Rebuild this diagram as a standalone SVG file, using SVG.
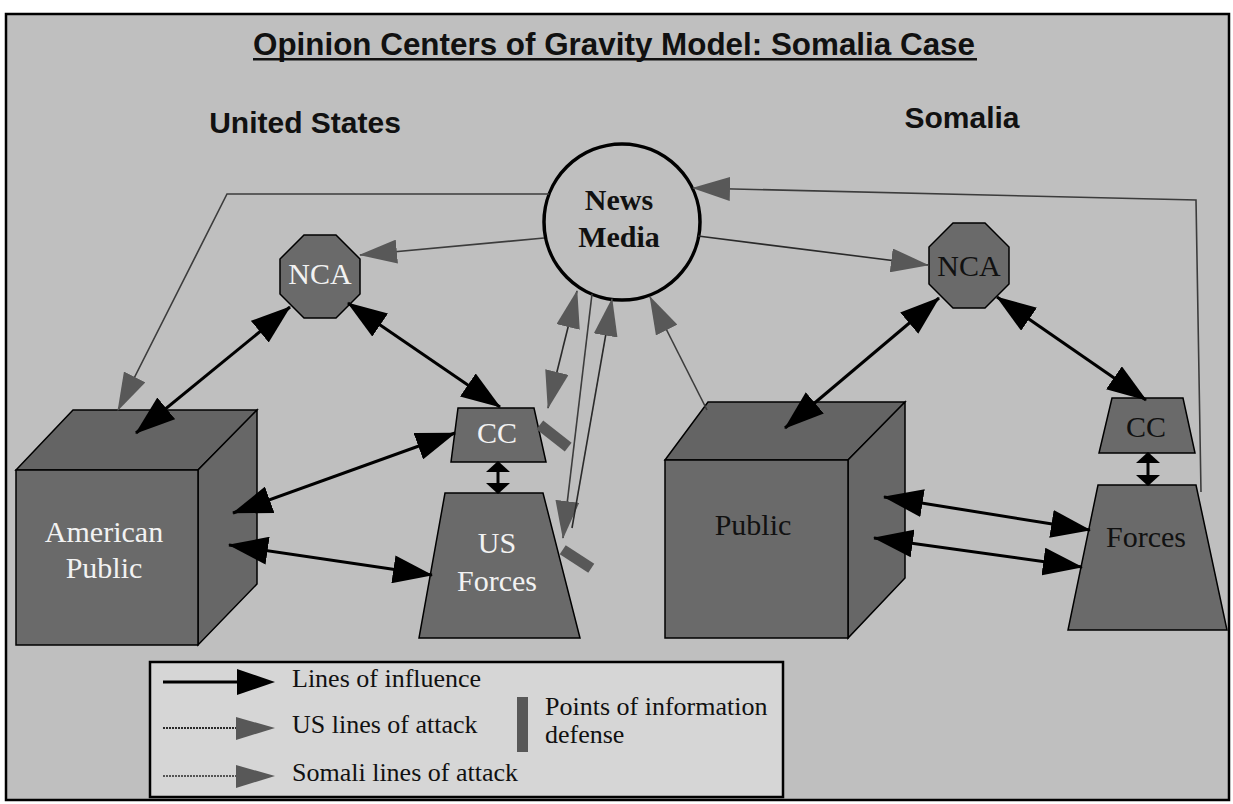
<svg xmlns="http://www.w3.org/2000/svg" width="1233" height="804" viewBox="0 0 1233 804">
<style>
.frame{fill:#bfbfbf;stroke:#000;stroke-width:2.5}
.node{fill:#6a6a6a;stroke:#000;stroke-width:1.5}
.top{fill:#646464;stroke:#000;stroke-width:1.5}
.side{fill:#676767;stroke:#000;stroke-width:1.5}
.circ{fill:#bfbfbf;stroke:#000;stroke-width:3.5}
.hd{font-family:"Liberation Sans",Arial,sans-serif;font-weight:bold;fill:#111}
.lbl{font-family:"Liberation Serif","Times New Roman",serif;font-size:30px;text-anchor:middle}
.wt{fill:#f2f2f2}
.dk{fill:#111}
.inf{fill:none;stroke:#000;stroke-width:3}
.atk{fill:none;stroke:#2a2a2a;stroke-width:1.6}
.atk2{fill:none;stroke:#3c3c3c;stroke-width:1.6}
.bar{fill:#585858}
.leg{font-family:"Liberation Serif","Times New Roman",serif;font-size:26px;fill:#111}
</style>
<defs>
<marker id="blk" markerUnits="userSpaceOnUse" viewBox="0 0 40 28" refX="39" refY="14" markerWidth="40" markerHeight="28" orient="auto-start-reverse">
<path d="M0,0 L40,14 L0,28 z" fill="#000"/>
</marker>
<marker id="blkS" markerUnits="userSpaceOnUse" viewBox="0 0 11 24" refX="10" refY="12" markerWidth="11" markerHeight="24" orient="auto-start-reverse">
<path d="M0,0 L11,12 L0,24 z" fill="#000"/>
</marker>
<marker id="gry" markerUnits="userSpaceOnUse" viewBox="0 0 38 24" refX="37" refY="12" markerWidth="38" markerHeight="24" orient="auto-start-reverse">
<path d="M0,0 L38,12 L0,24 z" fill="#585858"/>
</marker>
</defs>
<rect width="1233" height="804" fill="#fff"/>
<rect class="frame" x="6" y="14" width="1223" height="786"/>

<g id="titles">
<text class="hd" x="253" y="55" font-size="32" textLength="722" lengthAdjust="spacingAndGlyphs">Opinion Centers of Gravity Model: Somalia Case</text>
<rect x="253" y="58" width="724" height="2.5" fill="#111"/>
<text class="hd" x="305" y="133" font-size="30" text-anchor="middle">United States</text>
<text class="hd" x="962" y="128" font-size="30" text-anchor="middle">Somalia</text>
</g>

<g id="news-media">
<circle class="circ" cx="622" cy="222" r="78"/>
<text class="lbl dk" x="619" y="210" font-size="29" font-weight="bold">News</text>
<text class="lbl dk" x="619" y="247" font-size="29" font-weight="bold">Media</text>
</g>

<g id="nca-us">
<polygon class="node" points="304,235 336,235 360,259 360,294 336,318 304,318 280,294 280,259"/>
<text class="lbl wt" x="320" y="284" font-size="27">NCA</text>
</g>

<g id="nca-somalia">
<polygon class="node" points="953,223 985,223 1009,247 1009,284 985,308 953,308 929,284 929,247"/>
<text class="lbl dk" x="969" y="276" font-size="27">NCA</text>
</g>

<g id="american-public">
<polygon class="top" points="16,470 73,410 257,410 198,470"/>
<polygon class="side" points="198,470 257,410 257,584 198,645"/>
<rect class="node" x="16" y="470" width="182" height="175"/>
<text class="lbl wt" x="104" y="542">American</text>
<text class="lbl wt" x="104" y="578">Public</text>
</g>

<g id="cc-us">
<polygon class="node" points="458,408 534,408 546,462 451,462"/>
<text class="lbl wt" x="497" y="443">CC</text>
</g>

<g id="us-forces">
<polygon class="node" points="445,493 543,493 580,638 419,638"/>
<text class="lbl wt" x="497" y="553">US</text>
<text class="lbl wt" x="497" y="591">Forces</text>
</g>

<g id="somali-public">
<polygon class="top" points="665,460 708,402 905,402 848,460"/>
<polygon class="side" points="848,460 905,402 905,578 848,638"/>
<rect class="node" x="665" y="460" width="183" height="178"/>
<text class="lbl dk" x="753" y="535">Public</text>
</g>

<g id="cc-somalia">
<polygon class="node" points="1112,398 1183,398 1195,453 1099,453"/>
<text class="lbl dk" x="1146" y="437">CC</text>
</g>

<g id="somali-forces">
<polygon class="node" points="1098,485 1196,485 1227,630 1068,630"/>
<text class="lbl dk" x="1146" y="547">Forces</text>
</g>

<g id="connectors">
<line class="inf" x1="290" y1="307" x2="136" y2="433" marker-start="url(#blk)" marker-end="url(#blk)"/>
<line class="inf" x1="348" y1="303" x2="500" y2="407" marker-start="url(#blk)" marker-end="url(#blk)"/>
<line class="inf" x1="233" y1="513" x2="455" y2="433" marker-start="url(#blk)" marker-end="url(#blk)"/>
<line class="inf" x1="229" y1="545" x2="432" y2="575" marker-start="url(#blk)" marker-end="url(#blk)"/>
<line class="inf" x1="498" y1="462" x2="498" y2="493" marker-start="url(#blkS)" marker-end="url(#blkS)"/>
<line class="inf" x1="939" y1="298" x2="785" y2="428" marker-start="url(#blk)" marker-end="url(#blk)"/>
<line class="inf" x1="997" y1="297" x2="1146" y2="400" marker-start="url(#blk)" marker-end="url(#blk)"/>
<line class="inf" x1="1148" y1="453" x2="1148" y2="485" marker-start="url(#blkS)" marker-end="url(#blkS)"/>
<line class="inf" x1="884" y1="497" x2="1090" y2="530" marker-start="url(#blk)" marker-end="url(#blk)"/>
<line class="inf" x1="874" y1="538" x2="1082" y2="567" marker-start="url(#blk)" marker-end="url(#blk)"/>

<path class="atk2" d="M549,194 L227,194 L118,410" marker-end="url(#gry)"/>
<path class="atk2" d="M544,238 L360,255" marker-end="url(#gry)"/>
<path class="atk" d="M698,236 L928,265" marker-end="url(#gry)"/>
<path class="atk2" d="M1201,492 L1196,200 L693,188" marker-end="url(#gry)"/>
<path class="atk2" d="M707,410 L650,297" marker-end="url(#gry)"/>
<path class="atk" d="M548,408 L577,291" marker-start="url(#gry)" marker-end="url(#gry)"/>
<path class="atk2" d="M592,294 L563,538" marker-end="url(#gry)"/>
<path class="atk" d="M572,528 L612,299" marker-end="url(#gry)"/>
<rect class="bar" x="-18" y="-5.5" width="36" height="11" transform="translate(554,436) rotate(38)"/>
<rect class="bar" x="-17" y="-5.5" width="34" height="11" transform="translate(577,559) rotate(33)"/>
</g>

<g id="legend">
<rect x="150" y="662" width="633" height="135" fill="#d6d6d6" stroke="#000" stroke-width="2.5"/>
<line x1="163" y1="682" x2="240" y2="682" stroke="#000" stroke-width="3"/>
<path d="M237,669 L275,682 L237,695 z" fill="#000"/>
<text class="leg" x="292" y="687">Lines of influence</text>
<line x1="163" y1="728" x2="240" y2="728" stroke="#2a2a2a" stroke-width="2" stroke-dasharray="2,1"/>
<path d="M236,717 L275,728 L236,740 z" fill="#585858"/>
<text class="leg" x="292" y="733">US lines of attack</text>
<line x1="163" y1="776" x2="240" y2="776" stroke="#555" stroke-width="2" stroke-dasharray="2,1"/>
<path d="M236,765 L275,776 L236,788 z" fill="#585858"/>
<text class="leg" x="292" y="781">Somali lines of attack</text>
<rect x="517" y="697" width="11" height="55" fill="#585858"/>
<text class="leg" x="545" y="715">Points of information</text>
<text class="leg" x="545" y="743">defense</text>
</g>
</svg>
